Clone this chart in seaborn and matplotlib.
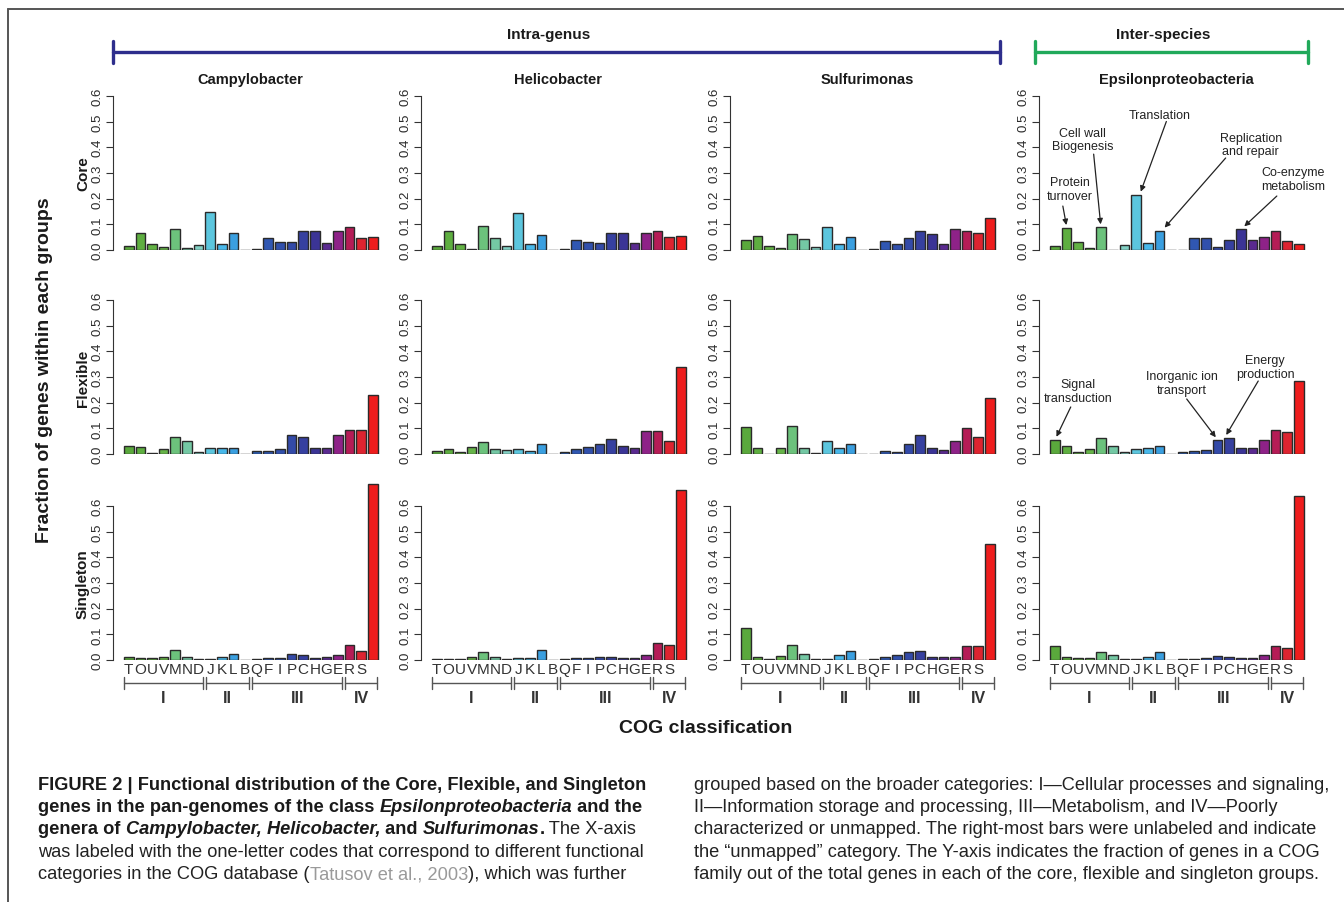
import matplotlib
matplotlib.use("Agg")
import matplotlib.pyplot as plt
from matplotlib.lines import Line2D
from matplotlib import font_manager
import seaborn as sns
import pandas as pd

# COG one-letter categories, the last bar is the unlabeled "unmapped" one
categories = ["T", "O", "U", "V", "M", "N", "D", "J", "K", "L", "B",
              "Q", "F", "I", "P", "C", "H", "G", "E", "R", "S", "unmapped"]
tick_letters = categories[:-1] + [""]
bar_colors = ["#5aa83c", "#5eae40", "#62b244", "#66b448", "#6cc27c", "#74c8a4",
              "#82d0c4", "#5cc6de", "#48b8ea", "#3a9fe0", "#2f74c8", "#2d5fb6",
              "#3057b2", "#3150ac", "#334aa8", "#3640a0", "#3b3496", "#5a2a90",
              "#8e2288", "#b51c56", "#dd2430", "#ee1d1d"]
group_names = ["I", "II", "III", "IV"]
group_sizes = [7, 4, 8, 3]

panel_titles = ["Campylobacter", "Helicobacter", "Sulfurimonas", "Epsilonproteobacteria"]
row_labels = ["Core", "Flexible", "Singleton"]

campy_core = [0.015, 0.068, 0.025, 0.010, 0.083, 0.007, 0.018, 0.147, 0.022, 0.067, 0.000,
              0.003, 0.048, 0.033, 0.030, 0.072, 0.072, 0.027, 0.075, 0.090, 0.045, 0.050]
campy_flex = [0.032, 0.028, 0.005, 0.020, 0.068, 0.050, 0.008, 0.022, 0.025, 0.025, 0.000,
              0.013, 0.013, 0.018, 0.072, 0.068, 0.025, 0.022, 0.072, 0.093, 0.093, 0.228]
campy_single = [0.010, 0.008, 0.008, 0.010, 0.037, 0.013, 0.002, 0.005, 0.013, 0.022, 0.000,
                0.003, 0.007, 0.008, 0.025, 0.020, 0.007, 0.010, 0.018, 0.060, 0.035, 0.685]

heli_core = [0.015, 0.075, 0.023, 0.005, 0.093, 0.047, 0.017, 0.145, 0.022, 0.060, 0.000,
             0.003, 0.037, 0.032, 0.028, 0.065, 0.065, 0.028, 0.068, 0.072, 0.050, 0.055]
heli_flex = [0.013, 0.020, 0.008, 0.027, 0.048, 0.020, 0.015, 0.020, 0.010, 0.037, 0.000,
             0.007, 0.020, 0.027, 0.040, 0.060, 0.032, 0.025, 0.088, 0.090, 0.050, 0.340]
heli_single = [0.005, 0.005, 0.005, 0.010, 0.030, 0.012, 0.002, 0.008, 0.008, 0.040, 0.000,
               0.003, 0.006, 0.008, 0.010, 0.010, 0.006, 0.008, 0.020, 0.065, 0.060, 0.660]

sulf_core = [0.038, 0.055, 0.015, 0.008, 0.062, 0.042, 0.012, 0.090, 0.022, 0.052, 0.000,
             0.005, 0.035, 0.025, 0.045, 0.072, 0.063, 0.025, 0.080, 0.075, 0.068, 0.125]
sulf_flex = [0.107, 0.025, 0.000, 0.022, 0.108, 0.025, 0.003, 0.050, 0.025, 0.037, 0.000,
             0.000, 0.013, 0.007, 0.040, 0.073, 0.025, 0.017, 0.050, 0.100, 0.065, 0.218]
sulf_single = [0.125, 0.010, 0.005, 0.015, 0.058, 0.025, 0.005, 0.005, 0.020, 0.035, 0.000,
               0.003, 0.010, 0.018, 0.030, 0.035, 0.010, 0.010, 0.010, 0.055, 0.055, 0.450]

eps_core = [0.015, 0.085, 0.032, 0.008, 0.088, 0.000, 0.020, 0.215, 0.028, 0.075, 0.000,
            0.000, 0.048, 0.048, 0.010, 0.040, 0.080, 0.037, 0.050, 0.075, 0.035, 0.022]
eps_flex = [0.055, 0.030, 0.007, 0.018, 0.062, 0.030, 0.007, 0.018, 0.022, 0.033, 0.000,
            0.007, 0.012, 0.017, 0.053, 0.062, 0.022, 0.022, 0.053, 0.093, 0.087, 0.285]
eps_single = [0.055, 0.010, 0.008, 0.008, 0.030, 0.020, 0.003, 0.005, 0.012, 0.030, 0.000,
              0.003, 0.005, 0.007, 0.015, 0.013, 0.008, 0.008, 0.020, 0.055, 0.045, 0.640]

panel_values = [
    [campy_core, heli_core, sulf_core, eps_core],
    [campy_flex, heli_flex, sulf_flex, eps_flex],
    [campy_single, heli_single, sulf_single, eps_single],
]

# callouts on the Epsilonproteobacteria panels: label, category, text pos, arrow start, x nudge
core_notes = [
    ("Protein\nturnover", "O", (1.3, 0.237), (0.7, 0.171), 0.0),
    ("Cell wall\nBiogenesis", "M", (2.4, 0.43), (3.35, 0.373), -0.05),
    ("Translation", "J", (9.0, 0.525), (9.6, 0.50), 0.4),
    ("Replication\nand repair", "L", (16.85, 0.41), (14.7, 0.358), 0.45),
    ("Co-enzyme\nmetabolism", "H", (20.5, 0.276), (19.1, 0.21), 0.3),
]
flex_notes = [
    ("Signal\ntransduction", "T", (2.0, 0.245), (1.38, 0.183), 0.15),
    ("Inorganic ion\ntransport", "P", (10.9, 0.276), (11.35, 0.214), -0.15),
    ("Energy\nproduction", "C", (18.1, 0.339), (17.5, 0.284), -0.25),
]

W, H = 1344, 903


def fx(x):
    return x / W


def fy(y):
    return 1 - y / H


sns.set_style("white")
plt.rcParams["font.family"] = ["Liberation Sans", "DejaVu Sans"]
ink = "#1a1a1a"

fig = plt.figure(figsize=(W / 100, H / 100), dpi=100)
fig.patch.set_facecolor("white")

# outer frame (left and top edges visible)
fig.add_artist(Line2D([fx(8), fx(8)], [fy(10), 0], color="#555555", lw=1.4))
fig.add_artist(Line2D([fx(8), 1], [fy(10), fy(10)], color="#555555", lw=1.4))

col_x = [113, 421, 730, 1039]
zero_y = [251, 455, 661]
px_per_unit = 257.0
slot_px = 11.63
xlim = (-1.35, 22.35)
ylim = (0, 0.7)
ax_w = (xlim[1] - xlim[0]) * slot_px
ax_h = (ylim[1] - ylim[0]) * px_per_unit
palette = dict(zip(categories, bar_colors))

axes = {}
for r in range(3):
    for c in range(4):
        left = col_x[c]
        bottom = zero_y[r]
        ax = fig.add_axes([fx(left), fy(bottom), ax_w / W, ax_h / H])
        df = pd.DataFrame({"cog": categories, "fraction": panel_values[r][c]})
        sns.barplot(data=df, x="cog", y="fraction", hue="cog", order=categories,
                    hue_order=categories, palette=palette, legend=False, width=0.83,
                    saturation=1, edgecolor="#2a2a2a", linewidth=1.0, ax=ax)
        ax.set_xlim(*xlim)
        ax.set_ylim(*ylim)
        ax.set_xlabel("")
        ax.set_ylabel("")
        ax.patch.set_alpha(0)
        for s in ["top", "right", "bottom"]:
            ax.spines[s].set_visible(False)
        ax.spines["left"].set_bounds(0, 0.6)
        ax.spines["left"].set_color("#333333")
        ax.spines["left"].set_linewidth(0.8)
        yt = [0.0, 0.1, 0.2, 0.3, 0.4, 0.5, 0.6]
        ax.set_yticks(yt)
        ax.set_yticklabels([f"{v:.1f}" for v in yt], rotation=90, va="center",
                           fontsize=9.5, color="#2a2a2a")
        ax.tick_params(axis="y", left=True, length=5, width=0.8, color="#333333", pad=2)
        if r == 2:
            ax.set_xticks(range(len(categories)))
            ax.set_xticklabels(tick_letters, fontsize=11, color="#333333")
            ax.tick_params(axis="x", bottom=False, length=0, pad=1.5)
            # broad-category brackets below the letters
            start = 0
            for name, size in zip(group_names, group_sizes):
                x0 = start - 0.38
                x1 = start + size - 1 + 0.38
                ax.plot([x0, x1], [-0.0895, -0.0895], color="#555555", lw=1.0, clip_on=False)
                for xe in (x0, x1):
                    ax.plot([xe, xe], [-0.067, -0.112], color="#555555", lw=1.0, clip_on=False)
                ax.text((x0 + x1) / 2, -0.144, name, ha="center", va="center",
                        fontsize=11.5, fontweight="bold", color="#333333")
                start += size
        else:
            ax.set_xticks([])
        axes[(r, c)] = ax

# panel titles
for c, title in enumerate(panel_titles):
    fig.text(fx(col_x[c] + 10 + 127), fy(80), title, ha="center", va="center",
             fontsize=10.5, fontweight="bold", color=ink)

# row labels
for r, lab in enumerate(row_labels):
    fig.text(fx(83), fy(zero_y[r] - 77), lab, ha="center", va="center", rotation=90,
             fontsize=11, fontweight="bold", color=ink)

fig.text(fx(45), fy(370), "Fraction of genes within each groups", ha="center", va="center",
         rotation=90, fontsize=14, fontweight="bold", color=ink)
fig.text(fx(706), fy(729), "COG classification", ha="center", va="center",
         fontsize=14, fontweight="bold", color=ink)

# top brackets
for x0, x1, color, label in [(113, 1000, "#2e2e8c", "Intra-genus"),
                             (1035, 1308, "#21a95a", "Inter-species")]:
    fig.add_artist(Line2D([fx(x0), fx(x1)], [fy(53), fy(53)], color=color, lw=2.4))
    for xe in (x0, x1):
        fig.add_artist(Line2D([fx(xe), fx(xe)], [fy(42), fy(64)], color=color, lw=2.4))
    fig.text(fx((x0 + x1) / 2 - 8), fy(35), label, ha="center", va="center",
             fontsize=11, fontweight="bold", color=ink)

# callouts
for row, notes in [(0, core_notes), (1, flex_notes)]:
    ax = axes[(row, 3)]
    vals = panel_values[row][3]
    for label, cat, txy, start, dx in notes:
        idx = categories.index(cat)
        ax.text(txy[0], txy[1], label, ha="center", va="center", fontsize=9,
                linespacing=1.15, color="#222222")
        ax.annotate("", xy=(idx + dx, vals[idx] + 0.012), xytext=start,
                    arrowprops=dict(arrowstyle="-|>", color="#222222", lw=0.9,
                                    mutation_scale=8, shrinkA=0, shrinkB=0))

# caption
names = {f.name for f in font_manager.fontManager.ttflist}
cap_family = "Liberation Sans Narrow" if "Liberation Sans Narrow" in names else "Liberation Sans"
renderer = fig.canvas.get_renderer()

probe = fig.text(0, 0, "FIGURE 2 | Functional distribution of the Core, Flexible, and Singleton",
                 fontsize=12, fontweight="bold", family=cap_family)
probe_w = probe.get_window_extent(renderer=renderer).width
probe.remove()
cap_size = 12 * 606 / probe_w

styles = {
    "b": dict(fontweight="bold", color=ink),
    "bi": dict(fontweight="bold", fontstyle="italic", color=ink),
    "n": dict(color="#222222"),
    "g": dict(color="#9a9a9a"),
}


def draw_runs(x, y, runs):
    for text, st in runs:
        t = fig.text(fx(x), fy(y), text, ha="left", va="center", fontsize=cap_size,
                     family=cap_family, **styles[st])
        x += t.get_window_extent(renderer=renderer).width


left_lines = [
    [("FIGURE 2 | Functional distribution of the Core, Flexible, and Singleton", "b")],
    [("genes in the pan-genomes of the class ", "b"), ("Epsilonproteobacteria", "bi"),
     (" and the", "b")],
    [("genera of ", "b"), ("Campylobacter, Helicobacter,", "bi"), (" and ", "b"),
     ("Sulfurimonas", "bi"), (".", "b"), (" The X-axis", "n")],
    [("was labeled with the one-letter codes that correspond to different functional", "n")],
    [("categories in the COG database (", "n"), ("Tatusov et al., 2003", "g"),
     ("), which was further", "n")],
]
right_lines = [
    "grouped based on the broader categories: I\u2014Cellular processes and signaling,",
    "II\u2014Information storage and processing, III\u2014Metabolism, and IV\u2014Poorly",
    "characterized or unmapped. The right-most bars were unlabeled and indicate",
    "the \u201cunmapped\u201d category. The Y-axis indicates the fraction of genes in a COG",
    "family out of the total genes in each of the core, flexible and singleton groups.",
]
line_y = [786, 808, 830, 853, 875]
for y, runs in zip(line_y, left_lines):
    draw_runs(38, y, runs)
for y, text in zip(line_y, right_lines):
    draw_runs(694, y, [(text, "n")])

fig.savefig("out.png", dpi=100, facecolor="white")
